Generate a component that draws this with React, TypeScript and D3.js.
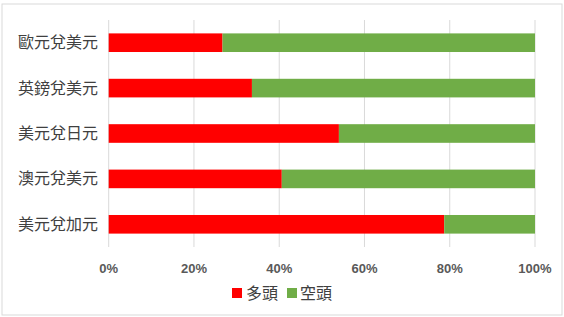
import React from "react";
import * as d3 from "d3";

const categories = ["歐元兌美元", "英鎊兌美元", "美元兌日元", "澳元兌美元", "美元兌加元"];
const longPct = [26.7, 33.6, 54.0, 40.6, 78.7];
const shortPct = longPct.map((v) => 100 - v);
const tickValues = [0, 20, 40, 60, 80, 100];
const seriesNames = ["多頭", "空頭"];
const seriesColors = ["#ff0000", "#70ad47"];

const W = 564;
const H = 317;
const plot = { left: 108.7, right: 535, top: 20, bottom: 247 };
const font = "'Liberation Sans', Arial, 'Noto Sans CJK TC', sans-serif";

export default function App() {
  const x = d3.scaleLinear().domain([0, 100]).range([plot.left, plot.right]);
  const y = d3
    .scaleBand<string>()
    .domain(categories)
    .range([plot.top, plot.bottom])
    .paddingInner(0.59)
    .paddingOuter(0.295);

  const rows = categories.map((c, i) => ({
    cat: c,
    segs: [
      { x0: 0, x1: longPct[i], color: seriesColors[0] },
      { x0: longPct[i], x1: longPct[i] + shortPct[i], color: seriesColors[1] },
    ],
  }));

  return (
    <svg
      width={W}
      height={H}
      style={{ position: "absolute", left: 0, top: 0, background: "#fff" }}
      fontFamily={font}
    >
      <rect x={2} y={4} width={560} height={311} fill="#fff" stroke="#d9d9d9" strokeWidth={1} />
      {tickValues.map((t) => (
        <line
          key={t}
          x1={x(t)}
          x2={x(t)}
          y1={plot.top}
          y2={plot.bottom}
          stroke="#d9d9d9"
          strokeWidth={1}
        />
      ))}
      {rows.map((r) => (
        <g key={r.cat}>
          {r.segs.map((s, j) => (
            <rect
              key={j}
              x={x(s.x0)}
              y={y(r.cat)!}
              width={x(s.x1) - x(s.x0)}
              height={y.bandwidth()}
              fill={s.color}
            />
          ))}
          <text
            x={98}
            y={y(r.cat)! + y.bandwidth() / 2}
            textAnchor="end"
            dominantBaseline="central"
            fontSize={16}
            fill="#404040"
          >
            {r.cat}
          </text>
        </g>
      ))}
      {tickValues.map((t) => (
        <text
          key={t}
          x={x(t)}
          y={268}
          textAnchor="middle"
          dominantBaseline="central"
          fontSize={13}
          fontWeight="bold"
          fill="#595959"
        >
          {t}%
        </text>
      ))}
      <g>
        <rect x={232} y={288} width={10} height={10} fill={seriesColors[0]} />
        <text x={246} y={293.5} dominantBaseline="central" fontSize={16} fill="#404040">
          {seriesNames[0]}
        </text>
        <rect x={287} y={288} width={10} height={10} fill={seriesColors[1]} />
        <text x={300} y={293.5} dominantBaseline="central" fontSize={16} fill="#404040">
          {seriesNames[1]}
        </text>
      </g>
    </svg>
  );
}
